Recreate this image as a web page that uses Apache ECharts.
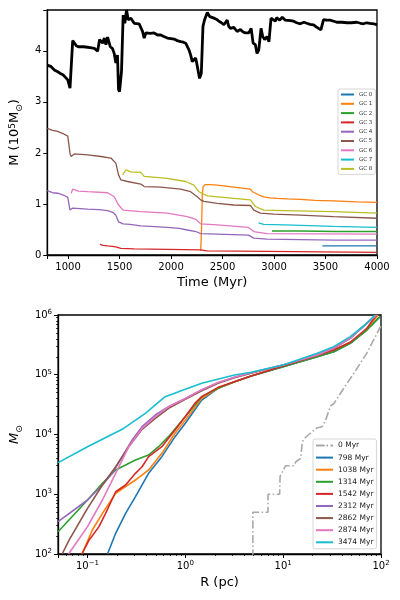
<!DOCTYPE html>
<html>
<head>
<meta charset="utf-8">
<script src="https://cdn.jsdelivr.net/npm/echarts@6/dist/echarts.min.js"></script>
<style>
  html, body { margin: 0; background: #fff; }
  #chart { width: 400px; height: 600px; }
</style>
</head>
<body>
<div id="chart"></div>
<script>
// ---- top panel: mass vs time (10^5 Msun) ----
const totalMass = [
  [798,3.72],[836,3.69],[870,3.62],[900,3.59],[930,3.55],[950,3.53],[975,3.48],[997,3.43],[1019,3.27],
  [1045,4.2],[1061,4.23],[1080,4.1],[1100,4.08],[1150,4.08],[1190,4.07],[1230,4.06],[1255,4.05],[1287,3.99],
  [1306,4.22],[1335,4.15],[1352,4.25],[1368,4.12],[1384,4.27],[1410,4.08],[1430,4.05],[1448,3.95],[1464,3.76],
  [1480,3.92],[1490,3.24],[1500,3.2],[1513,3.2],[1519,3.6],[1535,4.7],[1551,4.54],[1568,4.8],[1584,4.61],
  [1610,4.64],[1642,4.54],[1690,4.53],[1723,4.38],[1739,4.25],[1755,4.35],[1800,4.34],[1835,4.35],[1870,4.31],
  [1900,4.31],[1930,4.28],[1964,4.25],[2000,4.24],[2029,4.23],[2060,4.2],[2093,4.18],[2120,4.17],[2142,4.15],
  [2174,4.02],[2190,3.92],[2206,3.79],[2222,3.82],[2239,3.86],[2255,3.7],[2277,3.46],[2294,3.56],[2310,4.48],
  [2326,4.61],[2352,4.75],[2377,4.67],[2416,4.64],[2440,4.62],[2465,4.58],[2490,4.55],[2513,4.51],[2530,4.56],
  [2545,4.6],[2560,4.48],[2577,4.44],[2595,4.47],[2610,4.46],[2625,4.42],[2642,4.38],[2660,4.41],[2674,4.42],
  [2700,4.37],[2723,4.35],[2740,4.36],[2755,4.35],[2778,4.44],[2797,4.15],[2819,4.12],[2835,3.95],[2852,4.02],
  [2874,4.44],[2890,4.28],[2909,4.22],[2932,4.28],[2951,4.18],[2971,4.64],[2990,4.67],[3013,4.58],[3025,4.65],
  [3039,4.68],[3055,4.6],[3068,4.62],[3080,4.66],[3093,4.67],[3110,4.6],[3126,4.58],[3160,4.59],[3190,4.58],
  [3220,4.55],[3255,4.53],[3290,4.56],[3319,4.54],[3350,4.52],[3384,4.51],[3410,4.47],[3432,4.44],[3455,4.41],
  [3481,4.61],[3510,4.6],[3545,4.6],[3580,4.58],[3610,4.56],[3660,4.56],[3706,4.55],[3750,4.55],[3803,4.56],
  [3840,4.54],[3868,4.53],[3900,4.55],[3932,4.54],[3970,4.53],[4000,4.51]
];
const gc0 = [[3470,0.18],[3600,0.18],[3800,0.18],[4000,0.18]];
const gc1 = [[2288,0.08],[2296,0.5],[2304,1.2],[2312,1.34],[2330,1.38],[2380,1.38],[2448,1.37],[2530,1.35],
  [2610,1.33],[2690,1.31],[2771,1.29],[2790,1.24],[2803,1.22],[2850,1.18],[2900,1.14],[2960,1.12],[3029,1.11],
  [3130,1.1],[3255,1.09],[3400,1.07],[3577,1.06],[3800,1.04],[4000,1.03]];
const gc2 = [[2980,0.47],[3255,0.47],[3600,0.46],[4000,0.46]];
const gc3 = [[1310,0.21],[1340,0.19],[1384,0.18],[1430,0.17],[1464,0.16],[1513,0.13],[1642,0.12],[1964,0.11],
  [2287,0.1],[2350,0.08],[2932,0.07],[4000,0.05]];
const gc4 = [[798,1.26],[850,1.22],[900,1.21],[960,1.17],[997,1.13],[1019,0.88],[1045,0.92],[1190,0.9],
  [1300,0.89],[1384,0.87],[1440,0.83],[1464,0.78],[1490,0.65],[1535,0.61],[1600,0.6],[1706,0.57],[1800,0.56],
  [1964,0.54],[2080,0.52],[2158,0.49],[2240,0.46],[2287,0.42],[2448,0.41],[2600,0.4],[2752,0.39],[2803,0.33],
  [2932,0.31],[3255,0.3],[3600,0.29],[4000,0.29]];
const gc5 = [[798,2.48],[850,2.44],[900,2.42],[950,2.38],[997,2.33],[1019,1.99],[1030,1.93],[1061,1.98],
  [1190,1.96],[1319,1.93],[1416,1.9],[1464,1.8],[1490,1.57],[1513,1.47],[1577,1.44],[1706,1.39],[1739,1.34],
  [1900,1.33],[2093,1.29],[2190,1.24],[2255,1.14],[2287,1.08],[2319,1.05],[2448,1.01],[2610,0.98],[2771,0.97],
  [2803,0.88],[2868,0.82],[2997,0.8],[3255,0.78],[3577,0.75],[4000,0.72]];
const gc6 = [[1030,1.21],[1045,1.29],[1100,1.25],[1190,1.24],[1384,1.22],[1448,1.14],[1490,0.98],[1535,0.88],
  [1706,0.85],[1964,0.82],[2158,0.75],[2240,0.7],[2287,0.61],[2448,0.59],[2752,0.54],[2803,0.46],[2932,0.42],
  [4000,0.41]];
const gc7 = [[2850,0.63],[2900,0.6],[3100,0.59],[3577,0.56],[4000,0.54]];
const gc8 = [[1530,1.57],[1561,1.67],[1610,1.63],[1706,1.62],[1739,1.54],[1964,1.5],[2142,1.44],[2222,1.37],
  [2271,1.24],[2300,1.21],[2352,1.16],[2610,1.11],[2771,1.08],[2819,0.95],[2900,0.88],[3100,0.87],[3577,0.85],
  [4000,0.82]];
const gcNames = ['GC 0','GC 1','GC 2','GC 3','GC 4','GC 5','GC 6','GC 7','GC 8'];
const gcData = [gc0, gc1, gc2, gc3, gc4, gc5, gc6, gc7, gc8];

// ---- bottom panel: enclosed mass profile M(<R) ----
const prof0 = [[4.9,50],[4.9,500],[7.0,500],[7.0,1000],[9.2,1000],[9.3,2000],[9.6,2000],[10.6,3000],[12.9,3000],
  [13.5,3500],[15.1,4000],[15.7,7600],[17,9000],[18.3,10000],[22.3,13000],[25,13500],[27,17000],[30.5,30000],
  [33,33000],[41.5,59000],[52.6,105000],[71.6,230000],[100,660000]];
const prof798 = [[0.16,100],[0.194,222],[0.245,479],[0.309,912],[0.421,2240],[0.575,4260],[0.785,9200],[1.0,15400],
  [1.47,37800],[2.16,59300],[3.18,76600],[4.7,95000],[10,136000],[22.3,200000],[32.9,243000],[48.5,336000],
  [71.6,560000],[97.7,940000]];
const prof1038 = [[0.0877,100],[0.112,252],[0.142,479],[0.194,1040],[0.245,1340],[0.309,1730],[0.421,2550],
  [0.575,4840],[0.785,10500],[1.0,17400],[1.47,40300],[2.16,59300],[3.18,76600],[4.7,95000],[10,140000],
  [22.3,210000],[32.9,260000],[48.5,350000],[71.6,560000],[93,1000000]];
const prof1314 = [[0.05,236],[0.1,801],[0.142,1520],[0.194,2550],[0.309,3740],[0.421,4540],[0.532,6250],
  [0.673,9200],[1.0,20000],[1.47,43000],[2.16,59300],[3.18,76600],[4.7,95000],[10,136000],[22.3,200000],
  [32.9,243000],[48.5,336000],[71.6,560000],[97.7,940000]];
const prof1542 = [[0.0877,100],[0.104,172],[0.131,287],[0.153,479],[0.194,1100],[0.245,1430],[0.309,2240],
  [0.361,2890],[0.421,4260],[0.575,6250],[0.785,11900],[1.0,20000],[1.25,33200],[1.47,43000],[2.16,61500],
  [3.18,76600],[4.7,95000],[10,140000],[22.3,210000],[32.9,260000],[48.5,350000],[71.6,600000],[90,1000000]];
const prof2312 = [[0.05,348],[0.1,801],[0.142,1430],[0.179,2240],[0.226,4260],[0.286,8100],[0.361,13500],
  [0.493,21200],[0.673,29200],[1.0,40000],[1.47,55600],[2.16,73700],[3.18,90600],[4.7,108000],[10,146000],
  [22.3,214000],[32.9,277000],[48.5,406000],[71.6,725000],[90.3,1000000]];
const prof2862 = [[0.055,100],[0.065,172],[0.1,581],[0.142,1430],[0.194,2890],[0.264,6250],[0.361,12200],
  [0.493,18600],[0.673,27400],[1.0,38800],[1.47,54000],[2.16,72000],[3.18,89000],[4.7,106000],[10,146000],
  [22.3,214000],[32.9,280000],[48.5,410000],[71.6,730000],[90,1000000]];
const prof2874 = [[0.064,100],[0.1,287],[0.142,801],[0.194,2240],[0.264,6250],[0.361,12700],[0.493,19900],
  [0.673,29200],[1.0,40000],[1.47,56000],[2.16,74000],[3.18,91000],[4.7,108000],[10,146000],[22.3,214000],
  [32.9,280000],[48.5,410000],[71.6,730000],[90,1000000]];
const prof3474 = [[0.05,3380],[0.1,6250],[0.226,12200],[0.39,22600],[0.622,43000],[1.0,57000],[1.47,72000],
  [3.18,99000],[4.7,110000],[10,146000],[22.3,228000],[32.9,295000],[48.5,434000],[71.6,725000],[86.9,1000000]];
const profNames = ['0 Myr','798 Myr','1038 Myr','1314 Myr','1542 Myr','2312 Myr','2862 Myr','2874 Myr','3474 Myr'];
const profData = [prof0, prof798, prof1038, prof1314, prof1542, prof2312, prof2862, prof2874, prof3474];

const tab10 = ['#1f77b4','#ff7f0e','#2ca02c','#d62728','#9467bd','#8c564b','#e377c2','#17becf','#bcbd22'];
const profColors = ['#a9a9a9','#1f77b4','#ff7f0e','#2ca02c','#d62728','#9467bd','#8c564b','#e377c2','#17becf'];

const FONT = 'DejaVu Sans';
const supRich = {
  b: { fontFamily: FONT, fontSize: 10, lineHeight: 13, color: '#000' },
  sup: { fontFamily: FONT, fontSize: 7, lineHeight: 7, verticalAlign: 'top', color: '#000' }
};
function powLabel(v) {
  const e = Math.log10(v);
  const r = Math.round(e);
  if (Math.abs(e - r) > 1e-6) return '';
  return '{b|10}{sup|' + String(r).replace('-', '\u2212') + '}';
}

let series = [];
series.push({
  name: 'total', type: 'line', xAxisIndex: 0, yAxisIndex: 0, data: totalMass,
  symbol: 'none', lineStyle: { color: '#000', width: 2.8 }, itemStyle: { color: '#000' }, z: 3
});
gcNames.forEach(function (n, i) {
  series.push({
    name: n, type: 'line', xAxisIndex: 0, yAxisIndex: 0, data: gcData[i],
    symbol: 'none', lineStyle: { color: tab10[i], width: 1.3 }, itemStyle: { color: tab10[i] }
  });
});
profNames.forEach(function (n, i) {
  series.push({
    name: n, type: 'line', xAxisIndex: 1, yAxisIndex: 1, data: profData[i],
    symbol: 'none',
    lineStyle: i === 0 ? { color: profColors[i], width: 1.6, type: [8, 2.5, 1.5, 2.5] } : { color: profColors[i], width: 1.6 },
    itemStyle: { color: profColors[i] }
  });
});

const axisLineBlack = { show: true, lineStyle: { color: '#000', width: 1.3 } };
const tickBlack = { show: true, inside: false, length: 4, lineStyle: { color: '#000', width: 1 } };

const option = {
  animation: false,
  backgroundColor: '#fff',
  grid: [
    { left: 46, top: 10, width: 331, height: 245, show: true, borderColor: '#000', borderWidth: 1.3, backgroundColor: 'transparent' },
    { left: 54, top: 315, width: 327, height: 239, show: true, borderColor: '#000', borderWidth: 1.3, backgroundColor: 'transparent' }
  ],
  xAxis: [
    {
      type: 'value', gridIndex: 0, min: 798, max: 4000, splitNumber: 6, minInterval: 500, maxInterval: 500,
      name: 'Time (Myr)', nameLocation: 'middle', nameGap: 21,
      nameTextStyle: { fontFamily: FONT, fontSize: 13, color: '#000' },
      axisLine: axisLineBlack, axisTick: tickBlack, splitLine: { show: false },
      axisLabel: { fontFamily: FONT, fontSize: 10, color: '#000', margin: 7,
        formatter: function (v) { return v % 500 === 0 ? String(v) : ''; } }
    },
    {
      type: 'log', logBase: 10, gridIndex: 1, min: 0.05, max: 100,
      name: 'R (pc)', nameLocation: 'middle', nameGap: 22,
      nameTextStyle: { fontFamily: FONT, fontSize: 13, color: '#000' },
      axisLine: axisLineBlack, axisTick: tickBlack, splitLine: { show: false },
      minorTick: { show: true, splitNumber: 9, length: 2, lineStyle: { color: '#000', width: 0.8 } },
      minorSplitLine: { show: false },
      axisLabel: { margin: 6, formatter: powLabel, rich: supRich }
    }
  ],
  yAxis: [
    {
      type: 'value', gridIndex: 0, min: 0, max: 4.8, interval: 1,
      name: 'M (10{sup|5}M{sub|\u2299})', nameLocation: 'middle', nameGap: 22, nameRotate: 90,
      nameTextStyle: {
        fontFamily: FONT, fontSize: 13, color: '#000',
        rich: {
          sup: { fontFamily: FONT, fontSize: 9, lineHeight: 9, verticalAlign: 'top', color: '#000' },
          sub: { fontFamily: FONT, fontSize: 9, lineHeight: 9, verticalAlign: 'bottom', color: '#000', padding: [0, 0, -3, 0] }
        }
      },
      axisLine: axisLineBlack, axisTick: tickBlack, splitLine: { show: false },
      axisLabel: { fontFamily: FONT, fontSize: 10, color: '#000', margin: 6,
        formatter: function (v) { return Number.isInteger(v) ? String(v) : ''; } }
    },
    {
      type: 'log', logBase: 10, gridIndex: 1, min: 100, max: 1000000,
      name: '{m|M}{sub|\u2299}', nameLocation: 'middle', nameGap: 32, nameRotate: 90,
      nameTextStyle: {
        fontFamily: FONT, fontSize: 13, color: '#000',
        rich: {
          m: { fontFamily: FONT, fontSize: 13, fontStyle: 'italic', color: '#000' },
          sub: { fontFamily: FONT, fontSize: 9, lineHeight: 9, verticalAlign: 'bottom', color: '#000', padding: [0, 0, -3, 0] }
        }
      },
      axisLine: axisLineBlack, axisTick: tickBlack, splitLine: { show: false },
      minorTick: { show: true, splitNumber: 9, length: 2, lineStyle: { color: '#000', width: 0.8 } },
      minorSplitLine: { show: false },
      axisLabel: { margin: 6, formatter: powLabel, rich: supRich }
    }
  ],
  legend: [
    {
      data: gcNames, orient: 'vertical', left: 338, top: 89,
      itemWidth: 13, itemHeight: 2, itemGap: 2.3, padding: [2, 3, 2, 2],
      borderColor: '#cccccc', borderWidth: 0.8, borderRadius: 2, backgroundColor: 'rgba(255,255,255,0.8)',
      textStyle: { fontFamily: FONT, fontSize: 5.5, lineHeight: 7, color: '#333' }
    },
    {
      data: profNames, orient: 'vertical', left: 313, top: 439,
      itemWidth: 17, itemHeight: 2, itemGap: 3.1, padding: [2, 3, 2, 2],
      borderColor: '#cccccc', borderWidth: 0.8, borderRadius: 2, backgroundColor: 'rgba(255,255,255,0.8)',
      textStyle: { fontFamily: FONT, fontSize: 7.5, lineHeight: 9, color: '#222' }
    }
  ],
  series: series
};

const chart = echarts.init(document.getElementById('chart'), null, { renderer: 'canvas' });
chart.setOption(option);
window.onresize = function () { chart.resize(); };
</script>
</body>
</html>
